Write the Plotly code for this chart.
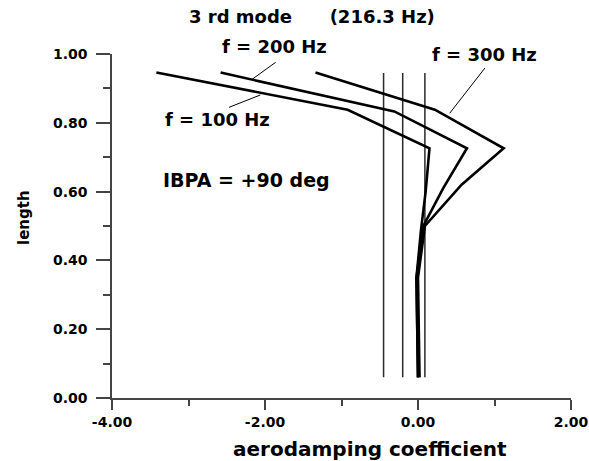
import plotly.graph_objects as go

# ---- data ----
length_100 = [0.946, 0.838, 0.726, 0.60, 0.49, 0.35, 0.06]
coef_100 = [-3.42, -0.92, 0.15, 0.10, 0.04, -0.02, 0.00]

length_200 = [0.946, 0.833, 0.726, 0.61, 0.50, 0.35, 0.06]
coef_200 = [-2.58, -0.31, 0.64, 0.33, 0.07, -0.02, 0.00]

length_300 = [0.946, 0.838, 0.726, 0.62, 0.50, 0.35, 0.06]
coef_300 = [-1.34, 0.22, 1.12, 0.57, 0.09, 0.00, 0.02]

ref_coefs = [-0.45, -0.20, 0.09]
ref_span = [0.06, 0.945]

labels = ["f = 100 Hz", "f = 200 Hz", "f = 300 Hz"]
label_pos = [(-2.62, 0.810), (-1.87, 1.022), (0.87, 0.999)]
leader_lines = [((-2.47, 0.845), (-2.06, 0.881)),
                ((-1.86, 0.976), (-2.165, 0.927)),
                ((0.874, 0.959), (0.415, 0.828))]

x_range = [-4, 2]
y_range = [0, 1]
x_ticks = [-4, -2, 0, 2]
y_ticks = [0, 0.2, 0.4, 0.6, 0.8, 1.0]

FONT = "DejaVu Sans"
W, H = 589, 461
ML, MR, MT, MB = 112, 18, 54, 63
PW, PH = W - ML - MR, H - MT - MB


def px(x):
    return (x - x_range[0]) / (x_range[1] - x_range[0])


def py(y):
    return (y - y_range[0]) / (y_range[1] - y_range[0])


def pix_x(p):
    return (p - ML) / PW


def pix_y(p):
    return (H - MB - p) / PH


fig = go.Figure()
for c in ref_coefs:
    fig.add_trace(go.Scatter(x=[c, c], y=ref_span, mode="lines",
                             line=dict(color="#2a2a2a", width=1.5),
                             showlegend=False, hoverinfo="skip"))
for xs, ys in [(coef_100, length_100), (coef_200, length_200), (coef_300, length_300)]:
    fig.add_trace(go.Scatter(x=xs, y=ys, mode="lines",
                             line=dict(color="black", width=2.6),
                             showlegend=False))

for (p0, p1) in leader_lines:
    fig.add_shape(type="line", x0=px(p0[0]), y0=py(p0[1]), x1=px(p1[0]), y1=py(p1[1]),
                  xref="paper", yref="paper", line=dict(color="black", width=1))

for txt, (lx, ly) in zip(labels, label_pos):
    fig.add_annotation(x=px(lx), y=py(ly), xref="paper", yref="paper", text=txt,
                       showarrow=False, xanchor="center", yanchor="middle",
                       font=dict(family=FONT, size=18, color="black", weight="bold"))

fig.add_annotation(x=px(-2.24), y=py(0.635), xref="paper", yref="paper",
                   text="IBPA = +90 deg", showarrow=False,
                   xanchor="center", yanchor="middle",
                   font=dict(family=FONT, size=19, color="black", weight="bold"))

# axis titles as annotations (fixed positions, no margin pushing)
fig.add_annotation(x=pix_x(24), y=pix_y(218), xref="paper", yref="paper",
                   text="length", textangle=-90, showarrow=False,
                   xanchor="center", yanchor="middle",
                   font=dict(family=FONT, size=15, color="black", weight="bold"))
fig.add_annotation(x=pix_x(370), y=pix_y(449), xref="paper", yref="paper",
                   text="aerodamping coefficient", showarrow=False,
                   xanchor="center", yanchor="middle",
                   font=dict(family=FONT, size=20, color="black", weight="bold"))
fig.add_annotation(x=pix_x(312), y=pix_y(16), xref="paper", yref="paper",
                   text="3 rd mode" + "&nbsp;" * 6 + "(216.3 Hz)", showarrow=False,
                   xanchor="center", yanchor="middle",
                   font=dict(family=FONT, size=18, color="black", weight="bold"))

fig.update_layout(
    width=W, height=H,
    margin=dict(l=ML, r=MR, t=MT, b=MB, autoexpand=False),
    paper_bgcolor="white", plot_bgcolor="white",
    font=dict(family=FONT, color="black"),
)

fig.update_xaxes(range=x_range, tickvals=x_ticks, automargin=False,
                 ticktext=["%.2f" % v for v in x_ticks],
                 ticks="outside", ticklen=10, tickwidth=1.5, tickcolor="#444",
                 minor=dict(dtick=1, ticks="outside", ticklen=6, tickwidth=1.5, tickcolor="#444"),
                 showline=True, linecolor="#444", linewidth=1.5,
                 showgrid=False, zeroline=False,
                 tickfont=dict(family=FONT, size=14, weight="bold", color="black"))
fig.update_yaxes(range=y_range, tickvals=y_ticks, automargin=False,
                 ticktext=["%.2f" % v for v in y_ticks],
                 ticks="outside", ticklen=14, tickwidth=1.5, tickcolor="#444",
                 minor=dict(dtick=0.1, ticks="outside", ticklen=7, tickwidth=1.5, tickcolor="#444"),
                 showline=True, linecolor="#444", linewidth=1.5,
                 showgrid=False, zeroline=False, ticklabelstandoff=6,
                 tickfont=dict(family=FONT, size=14, weight="bold", color="black"))

fig.write_html("out.html")
